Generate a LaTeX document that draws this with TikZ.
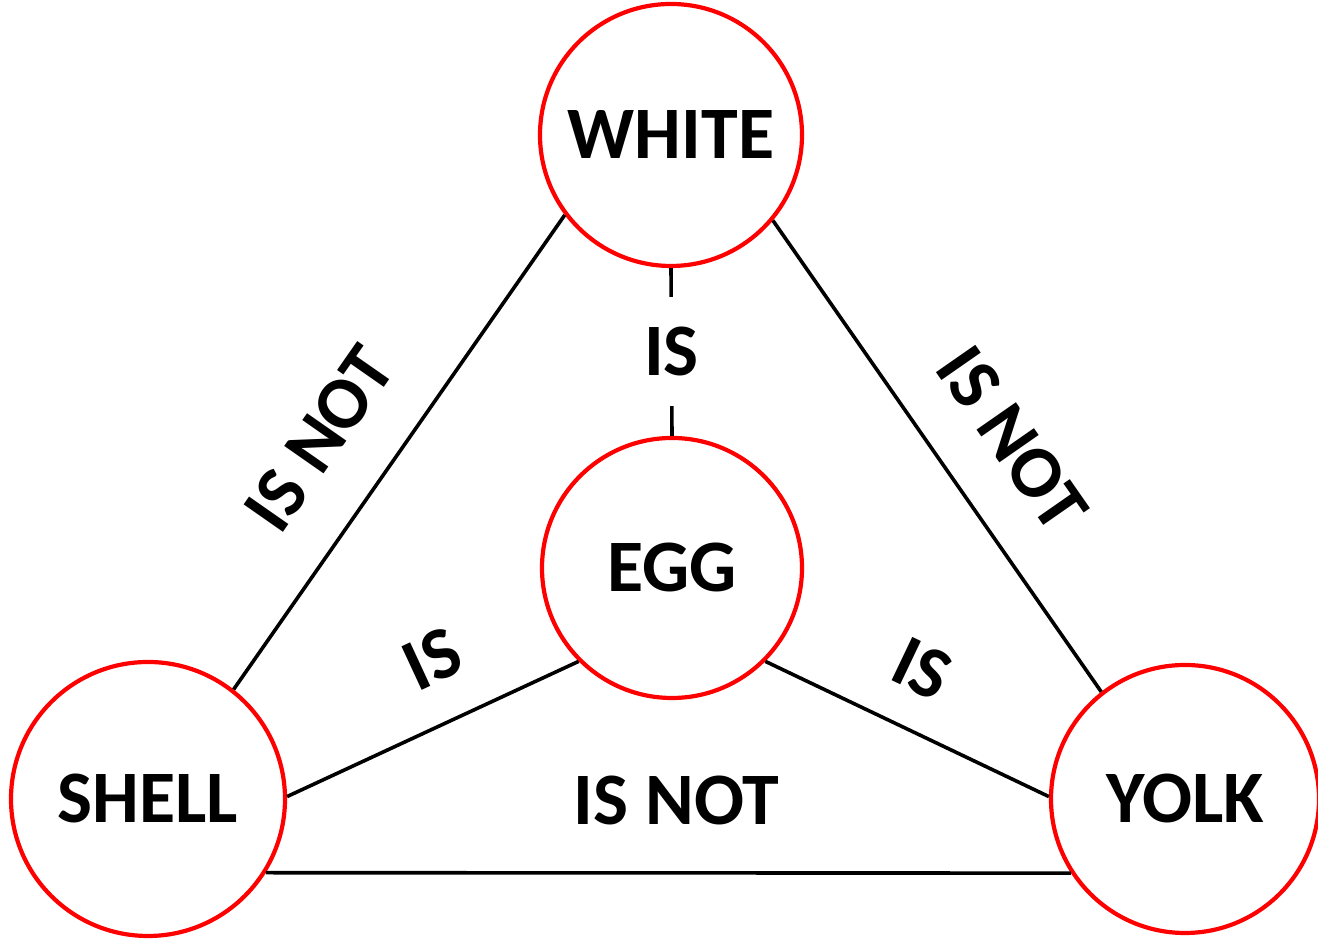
\documentclass[tikz,border=0pt]{standalone}
\usepackage{fontspec}
\setmainfont{Carlito}

\begin{document}
\begin{tikzpicture}[
  x=0.5pt, y=0.5pt,
  part/.style={circle, draw=red, line width=2.1pt, fill=white, inner sep=0pt, font=\fontsize{37}{40}\selectfont\bfseries},
  link/.style={line width=1.8pt},
  lbl/.style={inner sep=0pt, font=\fontsize{37}{40}\selectfont\bfseries}
]
\useasboundingbox (0,0) rectangle (1318,940);
\node[part, minimum size=131pt] (white) at (671,805) {WHITE};
\node[part, minimum size=130pt] (egg) at (672,372) {EGG};
\node[part, minimum size=137pt] (shell) at (148,141) {SHELL};
\node[part, minimum size=134pt] (yolk) at (1185,141) {YOLK};
\draw[link] (shell.52) -- node[lbl, pos=0.44, sloped, above=23.5pt] (isnotl) {IS NOT} (white.217);
\draw[link] (white.320) -- node[lbl, pos=0.55, sloped, above=22.7pt] (isnotr) {IS NOT} (yolk.128);
\draw[link] (white.south) -- node[lbl, fill=white, inner xsep=4pt, inner ysep=15pt] (ismid) {IS} (egg.north);
\draw[link] (shell.1) -- node[lbl, pos=0.59, sloped, above=18.8pt] (isl) {IS} (egg.225);
\draw[link] (egg.315) -- node[lbl, pos=0.46, sloped, above=17.3pt] (isr) {IS} (yolk.179);
\draw[link] (shell.328) -- node[lbl, pos=0.51, above=23pt] (isnotb) {IS NOT} (yolk.213);
\end{tikzpicture}
\end{document}
